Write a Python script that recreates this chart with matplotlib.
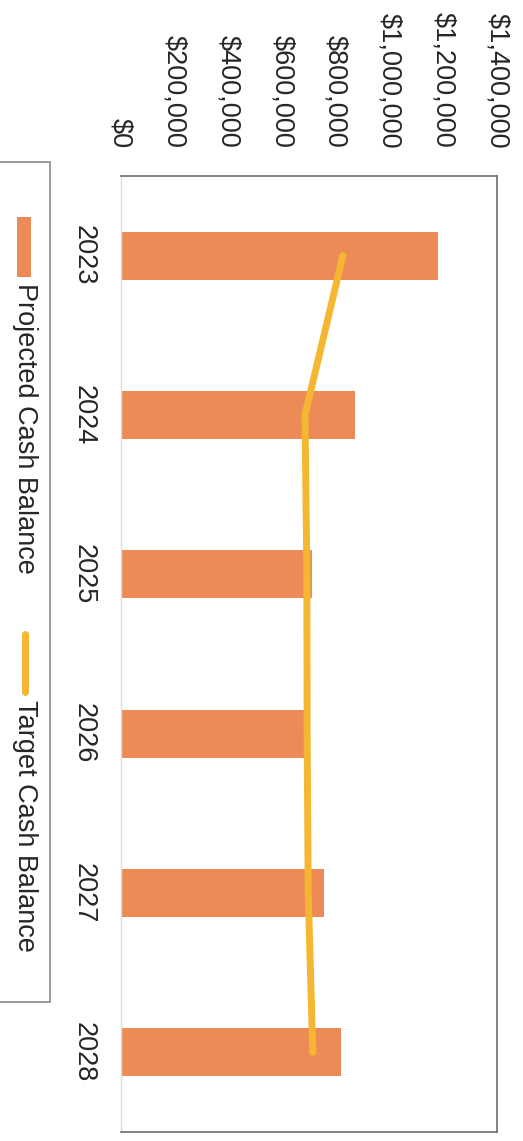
import matplotlib.pyplot as plt
from matplotlib.patches import Rectangle
from matplotlib.lines import Line2D
from matplotlib.ticker import FuncFormatter

plt.rcParams['font.family'] = ['Liberation Sans', 'DejaVu Sans']

YEARS = ["2023", "2024", "2025", "2026", "2027", "2028"]
PROJECTED = [1180000, 871000, 712000, 682000, 756000, 819000]
TARGET = [827000, 686000, 693000, 694000, 698000, 715000]
X_TICKS = [0, 200000, 400000, 600000, 800000, 1000000, 1200000, 1400000]

BAR_COLOR = "#EC8B56"
LINE_COLOR = "#F5B731"
TEXT_COLOR = "#262626"
FS = 19.5

W, H = 523, 1141


def fx(px):
    return px / W


def fy(py):
    # pixel rows counted from the top
    return 1 - py / H


fig = plt.figure(figsize=(W / 100, H / 100), dpi=100)
ax = fig.add_axes([fx(120.5), fy(1132), fx(497) - fx(120.5), fy(176) - fy(1132)])

pos = list(range(len(YEARS)))
ax.barh(pos, PROJECTED, height=0.30, color=BAR_COLOR, zorder=2)
ax.plot(TARGET, pos, color=LINE_COLOR, lw=5, solid_capstyle="round",
        solid_joinstyle="round", zorder=3)

ax.set_xlim(0, 1400000)
ax.set_ylim(len(YEARS) - 0.5, -0.5)

ax.xaxis.tick_top()
ax.set_xticks(X_TICKS)
ax.xaxis.set_major_formatter(FuncFormatter(lambda v, p: f"${v:,.0f}"))
ax.set_yticks(pos)
ax.set_yticklabels(YEARS)
ax.tick_params(axis="x", length=0, pad=20, labelsize=FS, colors=TEXT_COLOR)
ax.tick_params(axis="y", length=0, pad=17, labelsize=FS, colors=TEXT_COLOR)
for lab in ax.get_xticklabels():
    lab.set_rotation(-90)
    lab.set_ha("center")
    lab.set_va("bottom")
for lab in ax.get_yticklabels():
    lab.set_rotation(-90)
    lab.set_ha("right")
    lab.set_va("center")

for side in ("top", "right", "bottom"):
    ax.spines[side].set_color("#6e6e6e")
    ax.spines[side].set_linewidth(1.2)
ax.spines["left"].set_color("#dcdcdc")
ax.spines["left"].set_linewidth(1.0)

# legend drawn sideways along the left edge
fig.patches.append(Rectangle((fx(-5), fy(1002)), fx(55), fy(162) - fy(1002),
                             transform=fig.transFigure, fill=False,
                             edgecolor="#8a8a8a", lw=1.2))
fig.patches.append(Rectangle((fx(17), fy(277)), fx(14), fy(217) - fy(277),
                             transform=fig.transFigure, color=BAR_COLOR, lw=0))
fig.text(fx(25), fy(283), "Projected Cash Balance", rotation=-90, ha="center",
         va="top", fontsize=FS, color=TEXT_COLOR)
fig.lines.append(Line2D([fx(24.5), fx(24.5)], [fy(634), fy(692)],
                        transform=fig.transFigure, color=LINE_COLOR, lw=5,
                        solid_capstyle="round"))
fig.text(fx(25), fy(700), "Target Cash Balance", rotation=-90, ha="center",
         va="top", fontsize=FS, color=TEXT_COLOR)

fig.savefig("out.png", dpi=100)
